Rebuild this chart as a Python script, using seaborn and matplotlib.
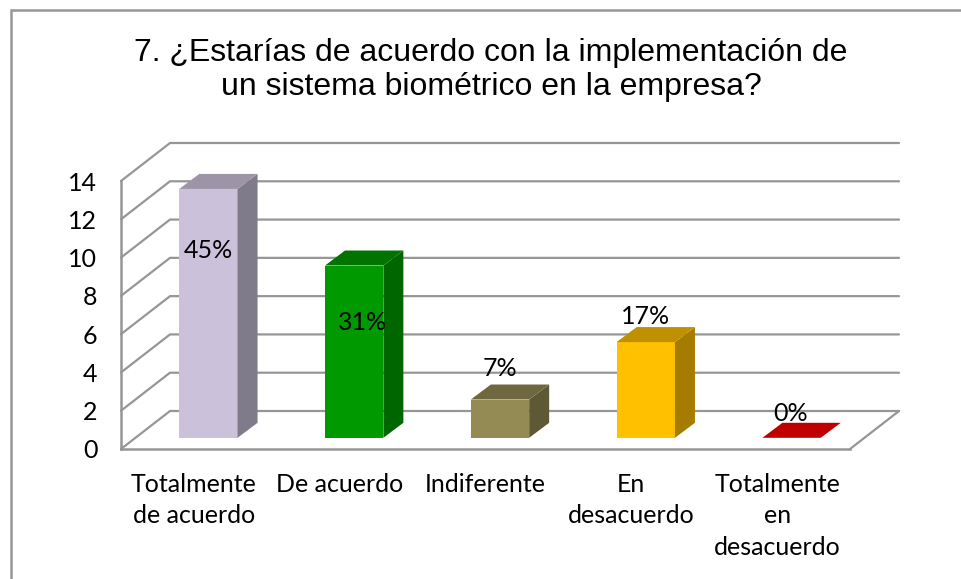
import pandas as pd
import matplotlib
matplotlib.use('Agg')
import matplotlib.pyplot as plt
import seaborn as sns
from matplotlib.lines import Line2D
from matplotlib.patches import Polygon

# --- data ---
categorias = ['Totalmente\nde acuerdo', 'De acuerdo', 'Indiferente', 'En\ndesacuerdo', 'Totalmente\nen\ndesacuerdo']
valores = [13, 9, 2, 5, 0]
etiquetas = ['45%', '31%', '7%', '17%', '0%']
y_ticks = [0, 2, 4, 6, 8, 10, 12, 14]
titulo = '7. ¿Estarías de acuerdo con la implementación de\nun sistema biométrico en la empresa?'

# --- colours: front, side, top ---
col_frente = ['#CCC1DA', '#009900', '#948A54', '#FFC000', '#C00000']
col_lado = ['#7F7B8A', '#006600', '#5F5835', '#A67C00', '#800000']
col_tapa = ['#9D94A8', '#007300', '#6F673F', '#BF9000', '#C00000']
gris = '#969696'

# --- layout in pixels ---
W, H = 961, 579
PLOT_L, PLOT_R, PLOT_T, PLOT_B = 121, 850, 181, 449
WALL_DX, WALL_DY = 49, 38      # floor depth of the fake 3d box
BAR_DX, BAR_DY = 14.5, 11.2    # bars stand a bit back from the front edge
DEPTH_DX, DEPTH_DY = 20, 15    # depth of each bar
# label offset from the bar top (px), placed by hand in the original chart
label_dx = [0, 8, 0, 0, -1]
label_dy = [-62, -57, 31, 26, 24]

sns.set_theme(style='white')
plt.rcParams['font.family'] = ['Lato', 'DejaVu Sans']

fig = plt.figure(figsize=(W / 100, H / 100), dpi=100)
fig.patch.set_facecolor('white')


def axes_px(left, right, top, bottom):
    return fig.add_axes([left / W, 1 - bottom / H, (right - left) / W, (bottom - top) / H])


# outer frame of the chart, only top and left are inside the crop
fig.add_artist(Line2D([11 / W, 11 / W, 1], [0, 1 - 9.5 / H, 1 - 9.5 / H], transform=fig.transFigure,
                      color=gris, linewidth=1.8, solid_joinstyle='miter'))

fig.text(491 / W, 1 - 70 / H, titulo, ha='center', va='center', fontsize=23,
         family='Liberation Sans', color='black', linespacing=1.14)

# axes with the walls and tick labels
ax = axes_px(PLOT_L, PLOT_R, PLOT_T, PLOT_B)
ax.set_xlim(-0.5, 4.5)
ax.set_ylim(0, 14)
ax.patch.set_alpha(0)
sns.despine(ax=ax, top=True, right=True)
for s in ['left', 'bottom']:
    ax.spines[s].set_color(gris)
    ax.spines[s].set_linewidth(1.8)

ux = (PLOT_R - PLOT_L) / 5
uy = (PLOT_B - PLOT_T) / 14
wall_x = WALL_DX / ux
wall_y = WALL_DY / uy
for v in y_ticks:
    ax.plot([-0.5, -0.5 + wall_x, 4.5 + wall_x], [v, v + wall_y, v + wall_y],
            color=gris, lw=1.6, clip_on=False, solid_joinstyle='miter')
ax.plot([4.5, 4.5 + wall_x], [0, wall_y], color=gris, lw=1.6, clip_on=False)

ax.set_xticks(range(5))
ax.set_xticklabels(categorias, fontsize=18, color='black', linespacing=1.46, va='top')
ax.set_yticks(y_ticks)
ax.set_yticklabels(y_ticks, fontsize=18, color='black')
ax.tick_params(axis='x', length=0, pad=17)
ax.tick_params(axis='y', length=0, pad=17)

# bars sit in a second axes, shifted back from the front edge
ax_bar = axes_px(PLOT_L + BAR_DX, PLOT_R + BAR_DX, PLOT_T - BAR_DY, PLOT_B - BAR_DY)
df = pd.DataFrame({'categoria': categorias, 'valor': valores})
sns.barplot(data=df, x='categoria', y='valor', hue='categoria', palette=col_frente,
            width=0.4, legend=False, saturation=1, linewidth=0, ax=ax_bar)
ax_bar.set_xlim(-0.5, 4.5)
ax_bar.set_ylim(0, 14)
ax_bar.axis('off')

dep_x = DEPTH_DX / ux
dep_y = DEPTH_DY / uy
for i, bar in enumerate(ax_bar.patches):
    x0 = bar.get_x()
    x1 = x0 + bar.get_width()
    h = bar.get_height()
    side = [(x1, 0), (x1 + dep_x, dep_y), (x1 + dep_x, h + dep_y), (x1, h)]
    top = [(x0, h), (x0 + dep_x, h + dep_y), (x1 + dep_x, h + dep_y), (x1, h)]
    if h > 0:
        ax_bar.add_patch(Polygon(side, closed=True, facecolor=col_lado[i], edgecolor='none', clip_on=False))
    ax_bar.add_patch(Polygon(top, closed=True, facecolor=col_tapa[i], edgecolor='none', clip_on=False))
    ax_bar.annotate(etiquetas[i], xy=(i, h), xytext=(label_dx[i] * 0.72, label_dy[i] * 0.72),
                    textcoords='offset points', ha='center', va='center', fontsize=18,
                    color='black', annotation_clip=False, zorder=10)

plt.savefig('out.png', dpi=100)
